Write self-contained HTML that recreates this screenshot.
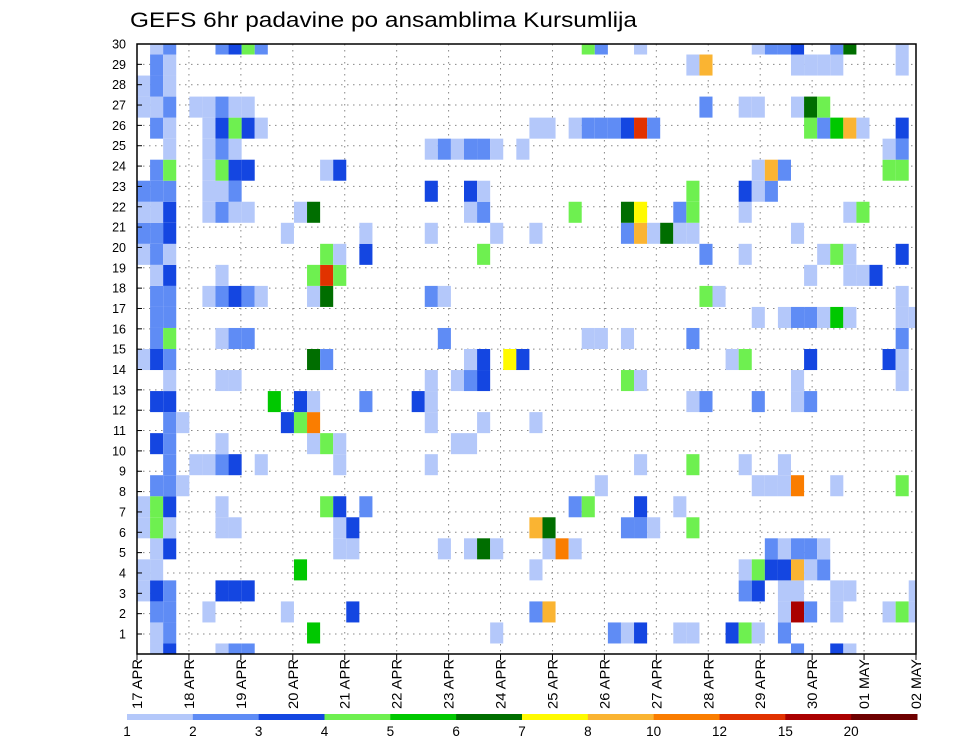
<!DOCTYPE html>
<html><head><meta charset="utf-8"><style>
html,body{margin:0;padding:0;background:#fff;}
svg{display:block;font-family:"Liberation Sans",sans-serif;}
</style></head><body>
<svg id="chart" width="960" height="742" viewBox="0 0 960 742" xmlns="http://www.w3.org/2000/svg">
<text x="130" y="27" font-size="21" textLength="507" lengthAdjust="spacingAndGlyphs">GEFS 6hr padavine po ansamblima Kursumlija</text>
<g id="grid"></g>
<g id="cells"></g>
<rect x="137" y="44" width="779" height="610" fill="none" stroke="#000" stroke-width="1.5"/>
<g id="yaxis"></g>
<g id="xaxis"></g>
<g id="cbar"></g>
</svg>
<script>
// ensemble member rows, bottom (m1) to top (m30): [column index, 6hr precipitation mm]
const m1=[[1,1.5],[2,3.5],[6,1.5],[7,2.5],[8,2.5],[50,2.5],[53,3.5],[54,1.5]];
const m2=[[1,1.5],[2,2.5],[13,5.5],[27,1.5],[36,2.5],[37,1.5],[38,3.5],[41,1.5],[42,1.5],[45,3.5],[46,4.5],[47,1.5],[49,2.5]];
const m3=[[1,2.5],[2,2.5],[5,1.5],[11,1.5],[16,3.5],[30,2.5],[31,9],[49,1.5],[50,17],[51,2.5],[53,1.5],[57,1.5],[58,4.5],[59,1.5]];
const m4=[[0,1.5],[1,3.5],[2,2.5],[6,3.5],[7,3.5],[8,3.5],[46,2.5],[47,3.5],[49,1.5],[50,1.5],[53,1.5],[54,1.5],[59,1.5]];
const m5=[[0,1.5],[1,1.5],[12,5.5],[30,1.5],[46,1.5],[47,4.5],[48,3.5],[49,3.5],[50,9],[51,1.5],[52,2.5]];
const m6=[[1,1.5],[2,3.5],[15,1.5],[16,1.5],[23,1.5],[25,1.5],[26,6.5],[27,1.5],[31,1.5],[32,11],[33,1.5],[48,2.5],[49,1.5],[50,2.5],[51,2.5],[52,1.5]];
const m7=[[0,1.5],[1,4.5],[2,1.5],[6,1.5],[7,1.5],[15,1.5],[16,3.5],[30,9],[31,6.5],[37,2.5],[38,2.5],[39,1.5],[42,4.5]];
const m8=[[0,1.5],[1,4.5],[2,3.5],[6,1.5],[14,4.5],[15,3.5],[17,2.5],[33,2.5],[34,4.5],[38,3.5],[41,1.5]];
const m9=[[1,2.5],[2,2.5],[3,1.5],[35,1.5],[47,1.5],[48,1.5],[49,1.5],[50,11],[53,1.5],[58,4.5]];
const m10=[[2,2.5],[4,1.5],[5,1.5],[6,2.5],[7,3.5],[9,1.5],[15,1.5],[22,1.5],[38,1.5],[42,4.5],[46,1.5],[49,1.5]];
const m11=[[1,3.5],[2,2.5],[6,1.5],[13,1.5],[14,4.5],[15,1.5],[24,1.5],[25,1.5]];
const m12=[[2,2.5],[3,1.5],[11,3.5],[12,4.5],[13,11],[22,1.5],[26,1.5],[30,1.5]];
const m13=[[1,3.5],[2,3.5],[10,5.5],[12,3.5],[13,1.5],[17,2.5],[21,3.5],[22,1.5],[42,1.5],[43,2.5],[47,2.5],[50,1.5],[51,2.5]];
const m14=[[2,1.5],[6,1.5],[7,1.5],[22,1.5],[24,1.5],[25,2.5],[26,3.5],[37,4.5],[38,1.5],[50,1.5],[58,1.5]];
const m15=[[0,1.5],[1,3.5],[2,2.5],[13,6.5],[14,2.5],[25,1.5],[26,3.5],[28,7.5],[29,3.5],[45,1.5],[46,4.5],[51,3.5],[57,3.5],[58,1.5]];
const m16=[[1,2.5],[2,4.5],[6,1.5],[7,2.5],[8,2.5],[23,2.5],[34,1.5],[35,1.5],[37,1.5],[42,2.5],[58,2.5]];
const m17=[[1,2.5],[2,2.5],[47,1.5],[49,1.5],[50,2.5],[51,2.5],[52,1.5],[53,5.5],[54,1.5],[58,1.5],[59,1.5]];
const m18=[[1,2.5],[2,2.5],[5,1.5],[6,2.5],[7,3.5],[8,2.5],[9,1.5],[13,1.5],[14,6.5],[22,2.5],[23,1.5],[43,4.5],[44,1.5],[58,1.5]];
const m19=[[1,1.5],[2,3.5],[6,1.5],[13,4.5],[14,13.5],[15,4.5],[51,1.5],[54,1.5],[55,1.5],[56,3.5]];
const m20=[[0,1.5],[1,2.5],[2,1.5],[14,4.5],[15,1.5],[17,3.5],[26,4.5],[43,2.5],[46,1.5],[52,1.5],[53,4.5],[54,1.5],[58,3.5]];
const m21=[[0,2.5],[1,2.5],[2,3.5],[11,1.5],[17,1.5],[22,1.5],[27,1.5],[30,1.5],[37,2.5],[38,9],[39,1.5],[40,6.5],[41,1.5],[42,1.5],[50,1.5]];
const m22=[[0,1.5],[1,1.5],[2,3.5],[5,1.5],[6,2.5],[7,1.5],[8,1.5],[12,1.5],[13,6.5],[25,1.5],[26,2.5],[33,4.5],[37,6.5],[38,7.5],[41,2.5],[42,4.5],[46,1.5],[54,1.5],[55,4.5]];
const m23=[[0,2.5],[1,2.5],[2,2.5],[5,1.5],[6,1.5],[7,2.5],[22,3.5],[25,3.5],[26,1.5],[42,4.5],[46,3.5],[47,1.5],[48,2.5]];
const m24=[[1,2.5],[2,4.5],[5,1.5],[6,4.5],[7,3.5],[8,3.5],[14,1.5],[15,3.5],[47,1.5],[48,9],[49,2.5],[57,4.5],[58,4.5]];
const m25=[[2,1.5],[5,1.5],[6,2.5],[7,1.5],[22,1.5],[23,2.5],[24,1.5],[25,2.5],[26,2.5],[27,1.5],[29,1.5],[57,1.5],[58,2.5]];
const m26=[[1,2.5],[2,1.5],[5,1.5],[6,3.5],[7,4.5],[8,3.5],[9,1.5],[30,1.5],[31,1.5],[33,1.5],[34,2.5],[35,2.5],[36,2.5],[37,3.5],[38,13.5],[39,2.5],[51,4.5],[52,2.5],[53,5.5],[54,9],[55,1.5],[58,3.5]];
const m27=[[0,1.5],[1,1.5],[2,2.5],[4,1.5],[5,1.5],[6,2.5],[7,1.5],[8,1.5],[43,2.5],[46,1.5],[47,1.5],[50,1.5],[51,6.5],[52,4.5]];
const m28=[[0,1.5],[1,2.5],[2,1.5]];
const m29=[[1,2.5],[2,1.5],[42,1.5],[43,9],[50,1.5],[51,1.5],[52,1.5],[53,1.5],[58,1.5]];
const m30=[[1,1.5],[2,2.5],[6,2.5],[7,3.5],[8,4.5],[9,2.5],[34,4.5],[35,2.5],[38,1.5],[47,1.5],[48,2.5],[49,2.5],[50,3.5],[53,2.5],[54,6.5],[58,1.5]];
const members=[m1,m2,m3,m4,m5,m6,m7,m8,m9,m10,m11,m12,m13,m14,m15,m16,m17,m18,m19,m20,m21,m22,m23,m24,m25,m26,m27,m28,m29,m30];
const levels=[1,2,3,4,5,6,7,8,10,12,15,20];
const levelLabels=["1","2","3","4","5","6","7","8","10","12","15","20"];
const dayLabels=["17 APR","18 APR","19 APR","20 APR","21 APR","22 APR","23 APR","24 APR","25 APR","26 APR","27 APR","28 APR","29 APR","30 APR","01 MAY","02 MAY"];
const memberLabels=[1,2,3,4,5,6,7,8,9,10,11,12,13,14,15,16,17,18,19,20,21,22,23,24,25,26,27,28,29,30];

const NS="http://www.w3.org/2000/svg";
const colors=["#b4c8fa","#5f8cf5","#1446e1","#6ef050","#00c800","#006e00","#fffa00","#fab432","#fa7d00","#e13200","#aa0000","#6e0000"];
const L=137,R=916,T=44,B=654;
const colW=13.08, rowH=610/29;
function xCol(c){return L+c*colW;}
function yMember(m){return B-(m-1)*rowH;}
function colorFor(v){let i=-1;for(let k=0;k<levels.length;k++){if(v>=levels[k])i=k;}return i<0?null:colors[i];}
function mk(tag,attrs,parent){const e=document.createElementNS(NS,tag);for(const k in attrs)e.setAttribute(k,attrs[k]);parent.appendChild(e);return e;}

const grid=document.getElementById('grid');
for(let k=1;k<=30;k++){
  const y=634-(k-1)*(590/29);
  const ln=mk('line',{x1:L,x2:R,y1:y,y2:y,stroke:'#888','stroke-width':1,'stroke-dasharray':'1.5,4.5'},grid);
  
  
}
const dayW=(R-L)/15;
for(let d=0;d<dayLabels.length;d++){
  const x=L+d*dayW;
  const ln=mk('line',{x1:x,x2:x,y1:T,y2:B,stroke:'#888','stroke-width':1,'stroke-dasharray':'1.5,4.5'},grid);
  
  
}

const cells=document.getElementById('cells');
members.forEach((row,i)=>{
  const m=i+1;
  row.forEach(([c,v])=>{
    const col=colorFor(v); if(!col)return;
    let x0=xCol(c),x1=Math.min(xCol(c+1),R);
    let y0=Math.max(yMember(m)-rowH/2,T),y1=Math.min(yMember(m)+rowH/2,B);
    if(x1<=x0)return;
    const r=mk('rect',{x:x0,y:y0,width:x1-x0,height:y1-y0,fill:col},cells);
    
    
  });
});

const ya=document.getElementById('yaxis');
memberLabels.forEach(k=>{
  const y=634-(k-1)*(590/29);
  const t=mk('text',{x:126,y:y+4.5,'font-size':12.5,'text-anchor':'end'},ya);
  t.textContent=String(k);
  
  
  const tk=mk('line',{x1:L,x2:L+5,y1:y,y2:y,stroke:'#000','stroke-width':1},ya);
  
  
});

const xa=document.getElementById('xaxis');
dayLabels.forEach((lab,d)=>{
  const x=L+d*dayW;
  const tk=mk('line',{x1:x,x2:x,y1:B,y2:B+6,stroke:'#000','stroke-width':1},xa);
  
  
  const t=mk('text',{transform:`translate(${x+5},659) rotate(-90)`,'font-size':14,'text-anchor':'end',textLength:50,lengthAdjust:'spacingAndGlyphs'},xa);
  t.textContent=lab;
  
  
});

const cb=document.getElementById('cbar');
const cbL=127,cbR=917,segW=(cbR-cbL)/colors.length;
colors.forEach((c,i)=>{
  const r=mk('rect',{x:cbL+i*segW,y:714,width:segW+0.5,height:6,fill:c},cb);
  
  
});
levelLabels.forEach((lab,i)=>{
  const t=mk('text',{x:cbL+i*segW,y:736,'font-size':13.5,'text-anchor':'middle'},cb);
  t.textContent=lab;
  
  
});
</script>
</body></html>
